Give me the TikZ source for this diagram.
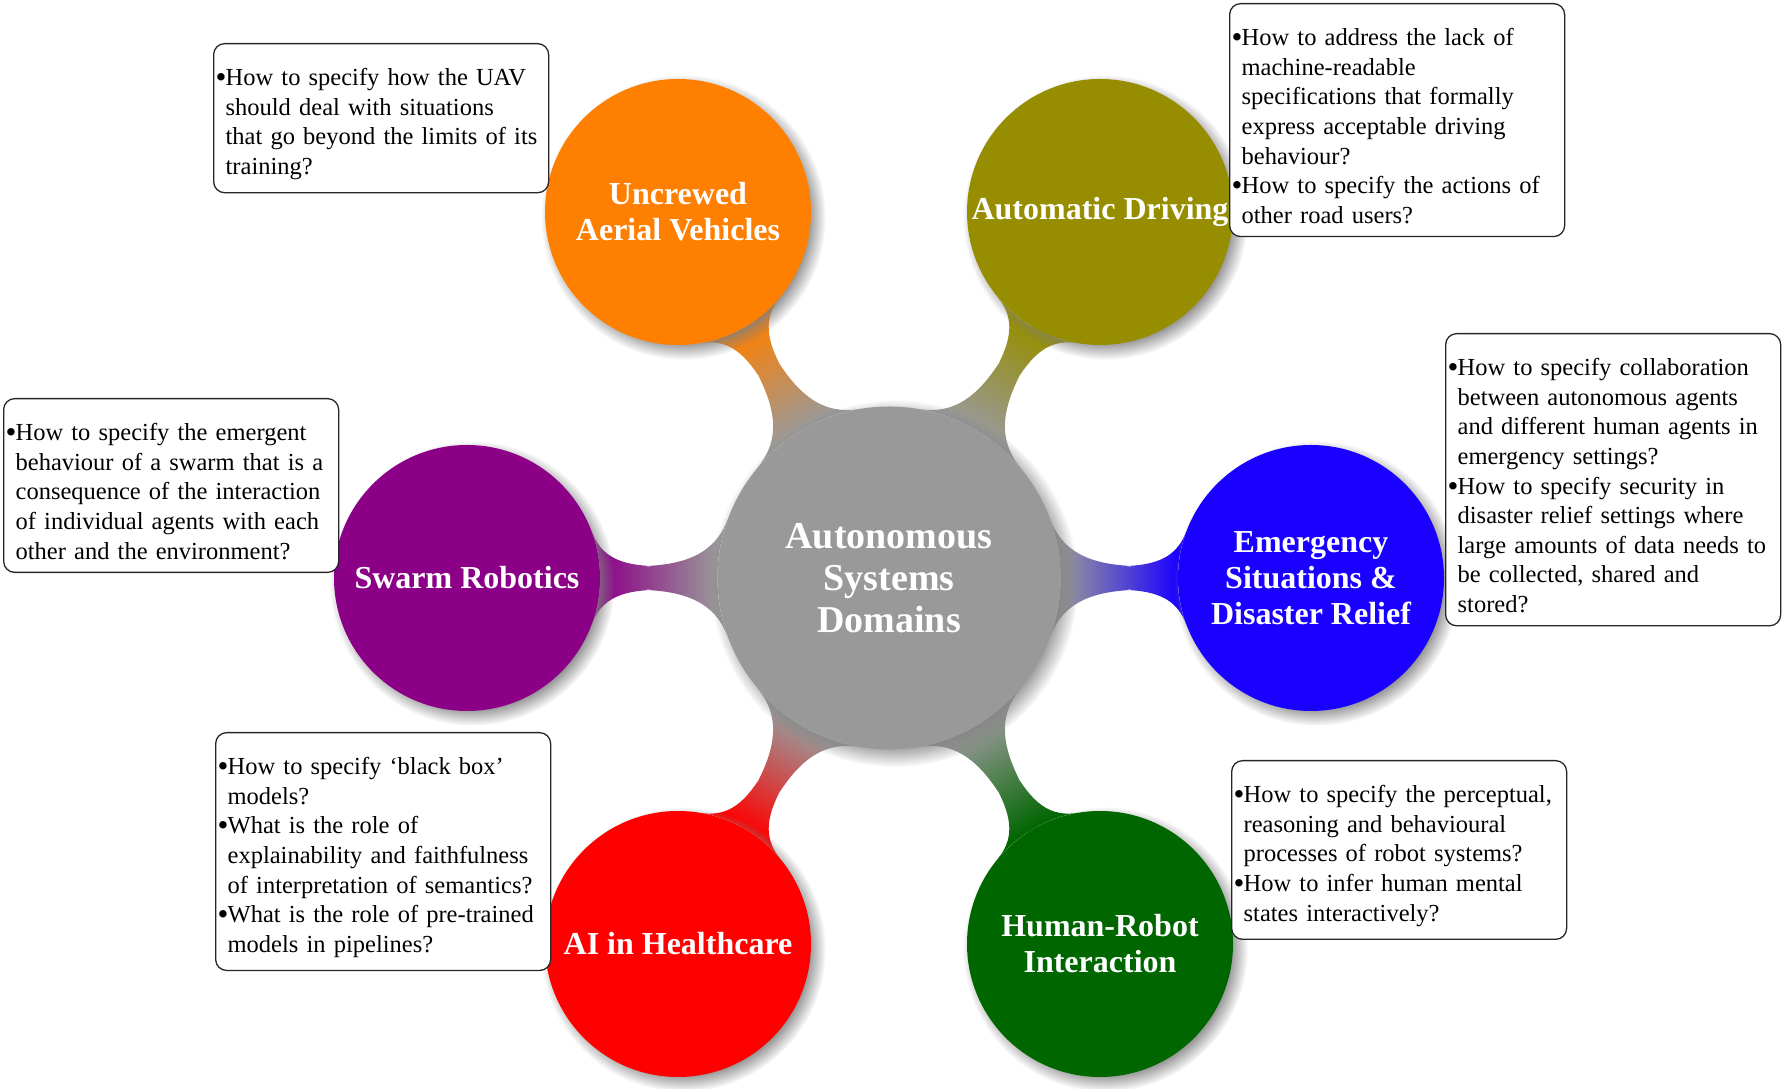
\documentclass[tikz,border=0pt]{standalone}
\usepackage{fontspec}
\setmainfont{Liberation Serif}
\usetikzlibrary{mindmap,shadows}
\pgfdeclarelayer{background}
\pgfsetlayers{background,main}

\definecolor{hubgray}{RGB}{153,153,153}
\definecolor{uavorange}{RGB}{255,127,0}
\definecolor{drivingolive}{RGB}{150,142,0}
\definecolor{rescueblue}{RGB}{26,0,255}
\definecolor{swarmpurple}{RGB}{140,0,136}
\definecolor{healthred}{RGB}{255,0,0}
\definecolor{hrigreen}{RGB}{0,102,0}

% bullet and hanging indent for the question boxes
\newcommand{\bul}{\makebox[10pt][l]{\raisebox{-2pt}{\fontsize{31}{31}\selectfont •}}}
\newcommand{\ind}{\hspace*{10pt}}

\begin{document}
\begin{tikzpicture}[x=1pt,y=1pt,
  softshadow/.style={circular drop shadow={shadow xshift=5pt, shadow yshift=-5pt, shadow scale=1.07}},
  hub/.style={circle, fill=hubgray, minimum size=343pt, inner sep=0pt,
    text=white, align=center, font=\bfseries\fontsize{38}{42}\selectfont, softshadow},
  domain/.style={circle, fill=#1, minimum size=266pt, inner sep=0pt,
    text=white, align=center, font=\bfseries\fontsize{32}{36}\selectfont, softshadow},
  note/.style={draw=black!85, line width=1.3pt, rounded corners=11pt, fill=white,
    text=black, text width=331pt, inner xsep=2pt, inner ysep=13pt, align=left,
    anchor=north west, font=\fontsize{24.5}{29.6}\selectfont,
    execute at begin node={\rule{0pt}{29pt}}},
  link/.style={line width=26pt}
]
\useasboundingbox (0,0) rectangle (1783,1089);

% concepts
\node[hub] (hub) at (889,511) {Autonomous\\Systems\\Domains};
\node[domain=uavorange]    (uav)    at (678,877)  {Uncrewed\\Aerial Vehicles};
\node[domain=drivingolive] (drive)  at (1100,877) {Automatic Driving};
\node[domain=rescueblue]   (rescue) at (1311,511) {Emergency\\Situations \&\\Disaster Relief};
\node[domain=hrigreen]     (hri)    at (1100,145) {Human-Robot\\Interaction};
\node[domain=healthred]    (health) at (678,145)  {AI in Healthcare};
\node[domain=swarmpurple]  (swarm)  at (467,511)  {Swarm Robotics};

% connection bars behind the concepts
\begin{pgfonlayer}{background}
\path[link] (hub) to[circle connection bar switch color=from (hubgray) to (uavorange)] (uav);
\path[link] (hub) to[circle connection bar switch color=from (hubgray) to (drivingolive)] (drive);
\path[link] (hub) to[circle connection bar switch color=from (hubgray) to (rescueblue)] (rescue);
\path[link] (hub) to[circle connection bar switch color=from (hubgray) to (hrigreen)] (hri);
\path[link] (hub) to[circle connection bar switch color=from (hubgray) to (healthred)] (health);
\path[link] (hub) to[circle connection bar switch color=from (hubgray) to (swarmpurple)] (swarm);
\end{pgfonlayer}

% open questions
\node[note] (uavq) at (213,1046) {\bul How to specify how the UAV\\
\ind should deal with situations\\
\ind that go beyond the limits of its\\
\ind training?};

\node[note] (driveq) at (1229,1086) {\bul How to address the lack of\\
\ind machine-readable\\
\ind specifications that formally\\
\ind express acceptable driving\\
\ind behaviour?\\
\bul How to specify the actions of\\
\ind other road users?};

\node[note] (swarmq) at (3,691) {\bul How to specify the emergent\\
\ind behaviour of a swarm that is a\\
\ind consequence of the interaction\\
\ind of individual agents with each\\
\ind other and the environment?};

\node[note] (rescueq) at (1445,756) {\bul How to specify collaboration\\
\ind between autonomous agents\\
\ind and different human agents in\\
\ind emergency settings?\\
\bul How to specify security in\\
\ind disaster relief settings where\\
\ind large amounts of data needs to\\
\ind be collected, shared and\\
\ind stored?};

\node[note] (healthq) at (215,357) {\bul How to specify ‘black box’\\
\ind models?\\
\bul What is the role of\\
\ind explainability and faithfulness\\
\ind of interpretation of semantics?\\
\bul What is the role of pre-trained\\
\ind models in pipelines?};

\node[note] (hriq) at (1231,329) {\bul How to specify the perceptual,\\
\ind reasoning and behavioural\\
\ind processes of robot systems?\\
\bul How to infer human mental\\
\ind states interactively?};
\end{tikzpicture}
\end{document}
